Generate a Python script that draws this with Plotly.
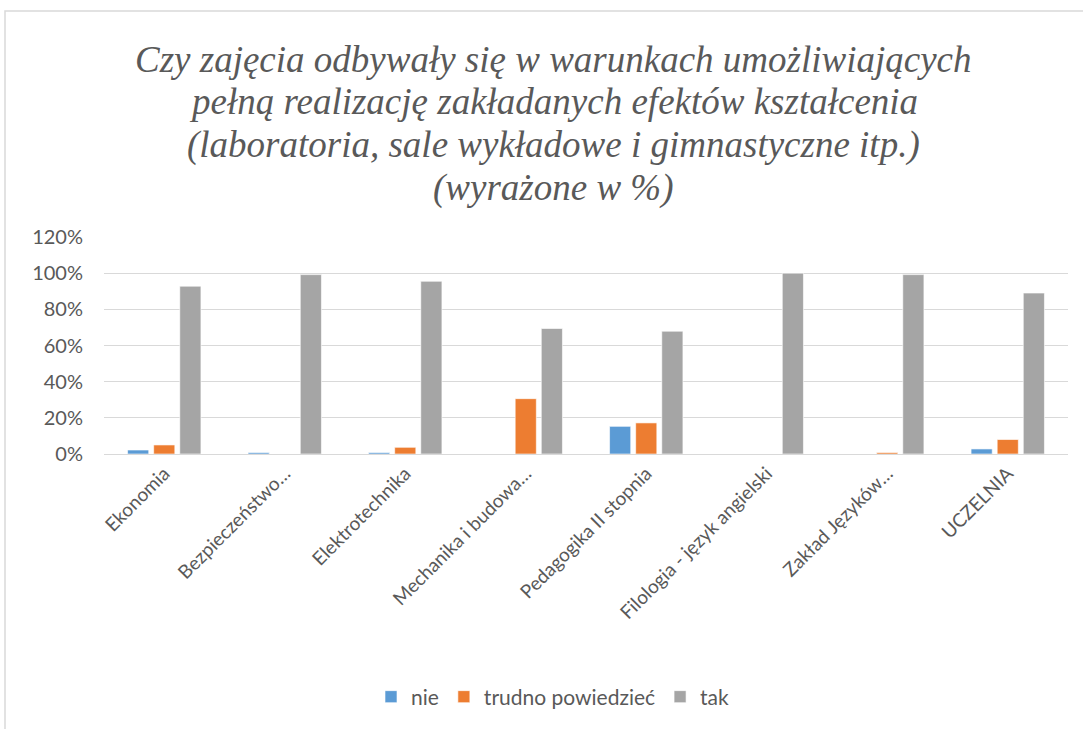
import plotly.graph_objects as go

categories = ["Ekonomia", "Bezpieczeństwo…", "Elektrotechnika", "Mechanika i budowa…",
              "Pedagogika II stopnia", "Filologia - język angielski", "Zakład Języków…", "UCZELNIA"]
nie = [2.2, 0.8, 0.8, 0.0, 15.3, 0.0, 0.0, 2.8]
trudno = [5.0, 0.0, 3.7, 30.6, 17.2, 0.0, 0.8, 8.0]
tak = [92.8, 99.2, 95.5, 69.4, 67.9, 100.0, 99.2, 89.0]
series_names = ["nie", "trudno powiedzieć", "tak"]
series_colors = ["#5B9BD5", "#ED7D31", "#A5A5A5"]
y_ticks = [0, 20, 40, 60, 80, 100, 120]
y_tick_text = ["0%", "20%", "40%", "60%", "80%", "100%", "120%"]
title_lines = [
    "Czy zajęcia odbywały się w warunkach umożliwiających",
    "pełną realizację zakładanych efektów kształcenia",
    "(laboratoria, sale wykładowe i gimnastyczne itp.)",
    "(wyrażone w %)",
]

W, H = 1083, 729
L, R, T, B = 104, 15, 237, 275

fig = go.Figure()
for name, vals, col in zip(series_names, [nie, trudno, tak], series_colors):
    fig.add_trace(go.Bar(x=categories, y=vals, name=name,
                         marker=dict(color=col, line=dict(color="rgba(255,255,255,0.6)", width=1))))

pw = W - L - R
ph = H - T - B
def px_x(x):
    return (x - L) / pw
def px_y(y):
    return (H - B - y) / ph

fig.update_layout(
    width=W, height=H,
    margin=dict(l=L, r=R, t=T, b=B, autoexpand=False),
    paper_bgcolor="white", plot_bgcolor="white",
    barmode="group", bargap=0.35, bargroupgap=0.19,
    font=dict(family="Lato", color="#595959"),
    yaxis=dict(range=[0, 120], tickvals=y_ticks, ticktext=y_tick_text,
               gridcolor="#D9D9D9", gridwidth=1, zeroline=False,
               showline=False, tickfont=dict(size=20, color="#595959"), ticks="",
               ticklabelstandoff=20),
    xaxis=dict(tickangle=-45, tickfont=dict(size=19, color="#595959"),
               showline=True, linecolor="#D9D9D9", linewidth=1, ticks=""),
    legend=dict(orientation="h", x=553 / W, xanchor="center", xref="container",
                y=1 - 697 / H, yanchor="middle", yref="container",
                font=dict(size=21, color="#595959"), itemwidth=30),
    showlegend=True,
)

title_centers = [57, 100, 143, 186]
for line, yc in zip(title_lines, title_centers):
    fig.add_annotation(text=line, xref="paper", yref="paper",
                       x=px_x(553), y=px_y(yc + 2), xanchor="center", yanchor="middle",
                       showarrow=False,
                       font=dict(family="Liberation Serif", size=37, color="#595959", style="italic"))

fig.add_shape(type="rect", xref="paper", yref="paper",
              x0=px_x(5), x1=px_x(1095), y0=px_y(740), y1=px_y(11),
              line=dict(color="#D9D9D9", width=1.5), fillcolor="rgba(0,0,0,0)", layer="below")

fig.write_html("out.html", config={"displayModeBar": False},
               post_script="document.body.style.margin='0';")
